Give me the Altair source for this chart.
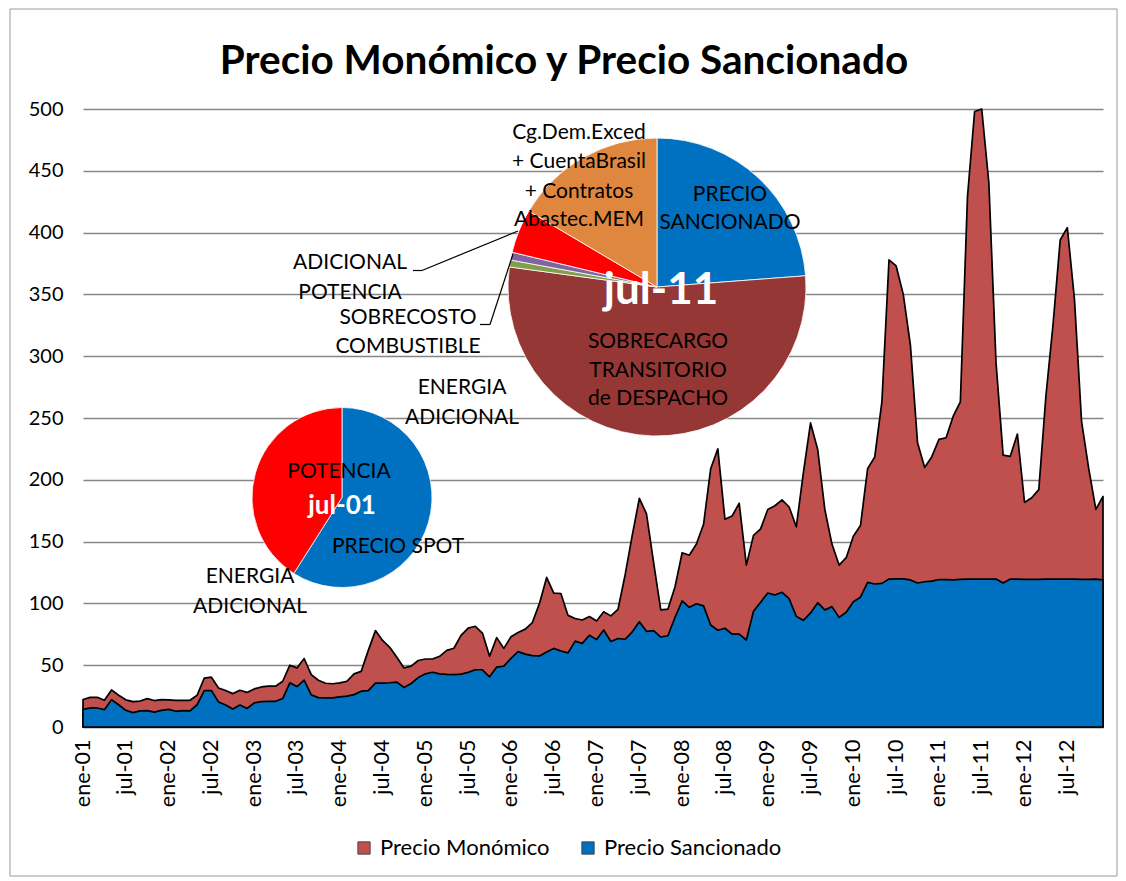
import altair as alt
import pandas as pd

# ---------------- data ----------------
meses_abrev = ["ene", "feb", "mar", "abr", "may", "jun", "jul", "ago", "sep", "oct", "nov", "dic"]
meses = [f"{m}-{y:02d}" for y in range(1, 13) for m in meses_abrev]
etiquetas_x = meses[::6]

precio_monomico = [
    22.2, 24, 24, 21.6, 30, 25.7, 22, 20.5, 21, 23, 21.4, 22.2,
    22, 21.6, 21.6, 21.6, 25.7, 39.5, 40.3, 31.6, 29.5, 27, 29.7, 28,
    30.8, 32.4, 33, 33, 37, 50, 47.8, 55.4, 42.4, 37.8, 35.4, 35,
    35.7, 37, 43, 45, 62, 78, 70, 64.5, 56.5, 47.8, 49.2, 53.8,
    55, 55, 57.2, 62, 63.7, 74.2, 80, 81.5, 76, 57.2, 72.3, 63.6,
    73, 76.5, 79.2, 84.5, 100, 121, 108.3, 108, 90.3, 87.8, 86.6, 89.4,
    85.8, 93.2, 89.9, 95.1, 123, 155, 185, 172.5, 133, 94.7, 95.3, 113.5,
    141, 139, 148, 164, 209, 225, 168, 170.7, 181, 131, 155, 160.3,
    176, 179, 183.7, 178, 162, 206, 246, 224.6, 176, 148, 131, 137,
    154.3, 163, 209, 218.5, 263, 378, 373, 350, 309, 230, 210, 218.7,
    232.7, 234, 251.5, 263, 429, 498, 500, 440, 295, 220, 219, 237,
    181.7, 185.5, 192, 268, 326, 394, 404, 346, 247, 209, 176, 186.5,
]
precio_sancionado = [
    14.3, 15.4, 15.4, 14, 22, 18, 13.5, 11.6, 13, 13.2, 12, 13.5,
    14.3, 12.7, 13.2, 13, 18, 29.5, 29.5, 20.3, 17.8, 14.6, 17.8, 15,
    19.5, 20.5, 20.8, 20.8, 23, 35.7, 32.7, 38, 26, 23.8, 23.5, 23.5,
    24.3, 25, 26.2, 29, 29.5, 35.5, 35.5, 35.8, 36.3, 32, 35.2, 40,
    43, 44.3, 43, 42.5, 42.4, 42.8, 44.2, 46.3, 46.3, 40.6, 48.5, 49.2,
    55.5, 61, 59, 57.7, 57.5, 60.7, 63.6, 61.5, 60, 69.5, 67.7, 74.2,
    70.7, 78.5, 69.2, 71.6, 71, 77, 85.1, 77.4, 78, 72.8, 73.8, 88.8,
    102, 96.8, 99.7, 98, 82.5, 78.3, 79.9, 75.1, 75.1, 70.4, 93.6, 101,
    108.4, 106.8, 109, 103.8, 89.5, 86.3, 92.3, 100.6, 94.7, 97.4, 88.7, 92.8,
    101.4, 105, 117, 115.7, 116.2, 119.7, 119.8, 119.8, 119, 116.5, 117.5, 118,
    119.3, 119.2, 119, 119.5, 119.7, 119.6, 119.7, 119.7, 119.7, 116.5, 119.7, 119.6,
    119.5, 119.5, 119.5, 119.6, 119.7, 119.7, 119.7, 119.7, 119.5, 119.5, 119.6, 119,
]
series = ["Precio Monómico", "Precio Sancionado"]
colores_series = ["#C0504D", "#0070C0"]

pie1_categorias = ["PRECIO SPOT", "POTENCIA"]
pie1_valores = [59, 41]
pie1_colores = ["#0070C0", "#FF0000"]

pie2_categorias = ["PRECIO SANCIONADO", "SOBRECARGO TRANSITORIO de DESPACHO",
                   "SOBRECOSTO COMBUSTIBLE", "ADICIONAL POTENCIA", "ENERGIA ADICIONAL",
                   "Cg.Dem.Exced + CuentaBrasil + Contratos Abastec.MEM"]
pie2_valores = [23.8, 53.35, 0.75, 0.85, 4.75, 16.5]
pie2_colores = ["#0070C0", "#953735", "#7F9F4A", "#8064A2", "#FF0000", "#E0873F"]

titulo = "Precio Monómico y Precio Sancionado"

# ---------------- layout constants ----------------
FONT = "Lato"
PL, PT = 75, 101          # padding -> plot origin at page (83, 109)
W, H = 1020, 618
OX, OY = 8 + PL, 8 + PT   # page coords of plot origin

df = pd.DataFrame({
    "mes": meses * 2,
    "serie": [series[0]] * len(meses) + [series[1]] * len(meses),
    "valor": precio_monomico + precio_sancionado,
})

area = alt.Chart(df).mark_area(stroke="black", strokeWidth=1.7, strokeJoin="round").encode(
    x=alt.X("mes:O", sort=meses, title=None,
            scale=alt.Scale(type="point", padding=0),
            axis=alt.Axis(values=etiquetas_x, labelAngle=-90, labelFont=FONT, labelFontSize=21.5,
                          labelColor="black", labelPadding=12, ticks=False,
                          domainColor="#868686", domainWidth=1.5, grid=False)),
    y=alt.Y("valor:Q", stack=None, title=None,
            scale=alt.Scale(domain=[0, 500], nice=False),
            axis=alt.Axis(values=list(range(0, 501, 50)), labelFont=FONT, labelFontSize=20,
                          labelColor="black", labelPadding=20, ticks=False, domain=False,
                          gridColor="#868686", gridWidth=1.3)),
    color=alt.Color("serie:N", scale=alt.Scale(domain=series, range=colores_series),
                    legend=alt.Legend(orient="none", legendX=270, legendY=728,
                                      direction="horizontal", title=None,
                                      labelFont=FONT, labelFontSize=22, labelColor="black",
                                      labelLimit=0,
                                      symbolType="square", symbolSize=150,
                                      symbolStrokeColor="#404040", symbolStrokeWidth=1,
                                      columnPadding=27, labelOffset=5)),
)


def pie(cats, vals, cols, cx, cy, r):
    d = pd.DataFrame({"cat": cats, "valor": vals, "color": cols, "orden": list(range(len(cats)))})
    return alt.Chart(d).mark_arc(outerRadius=r, stroke="white", strokeWidth=0.8).encode(
        theta=alt.Theta("valor:Q", stack=True),
        order=alt.Order("orden:Q"),
        color=alt.Color("color:N", scale=None),
        x=alt.value(cx - OX), y=alt.value(cy - OY),
    )


def txt(lines, x, ys, size=21, color="black", bold=False):
    if isinstance(lines, str):
        lines, ys = [lines], [ys]
    out = []
    for s, y in zip(lines, ys):
        out.append(alt.Chart(alt.Data(values=[{}])).mark_text(
            text=s, font=FONT, fontSize=size, color=color,
            fontWeight="bold" if bold else "normal", align="center", baseline="middle",
        ).encode(x=alt.value(x - OX), y=alt.value(y - OY)))
    return out


def seg(x1, y1, x2, y2):
    return alt.Chart(alt.Data(values=[{}])).mark_rule(color="black", strokeWidth=1.2).encode(
        x=alt.value(x1 - OX), y=alt.value(y1 - OY), x2=alt.value(x2 - OX), y2=alt.value(y2 - OY))


borde = alt.Chart(alt.Data(values=[{}])).mark_rect(fill=None, stroke="#9a9a9a", strokeWidth=1).encode(
    x=alt.value(10 - OX), x2=alt.value(1117 - OX), y=alt.value(9 - OY), y2=alt.value(876 - OY))

capas = [
    borde,
    area,
    pie(pie1_categorias, pie1_valores, pie1_colores, 342, 497.5, 90),
    pie(pie2_categorias, pie2_valores, pie2_colores, 657, 287, 149),
    seg(413, 270.5, 422, 270.5),
    seg(422, 270.5, 518, 231),
    seg(480, 324.5, 490, 324.5),
    seg(490, 324.5, 513, 254),
]
capas += txt(titulo, 564, 62, size=40.5, bold=True)
# pie 1 labels
capas += txt("POTENCIA", 339, 472)
capas += txt("jul-01", 342, 506, size=26, color="white", bold=True)
capas += txt("PRECIO SPOT", 398, 547)
capas += txt(["ENERGIA", "ADICIONAL"], 250, [577, 607])
# pie 2 labels
capas += txt(["Cg.Dem.Exced", "+ CuentaBrasil", "+ Contratos", "Abastec.MEM"], 579, [133, 162, 192, 220])
capas += txt(["PRECIO", "SANCIONADO"], 730, [195, 223])
capas += txt("jul-11", 661, 291, size=44, color="white", bold=True)
capas += txt(["SOBRECARGO", "TRANSITORIO", "de DESPACHO"], 658, [342, 371, 399])
capas += txt(["ADICIONAL", "POTENCIA"], 350, [263, 293])
capas += txt(["SOBRECOSTO", "COMBUSTIBLE"], 408, [318, 347])
capas += txt(["ENERGIA", "ADICIONAL"], 462, [388, 418])

chart = alt.layer(*capas).resolve_scale(
    color="independent", theta="independent"
).properties(
    width=W, height=H,
    autosize="none",
    padding={"left": PL, "top": PT, "right": 15, "bottom": 150},
    background="white",
).configure_view(stroke=None)

chart.save("out.html", embed_options={"renderer": "svg", "actions": False})
